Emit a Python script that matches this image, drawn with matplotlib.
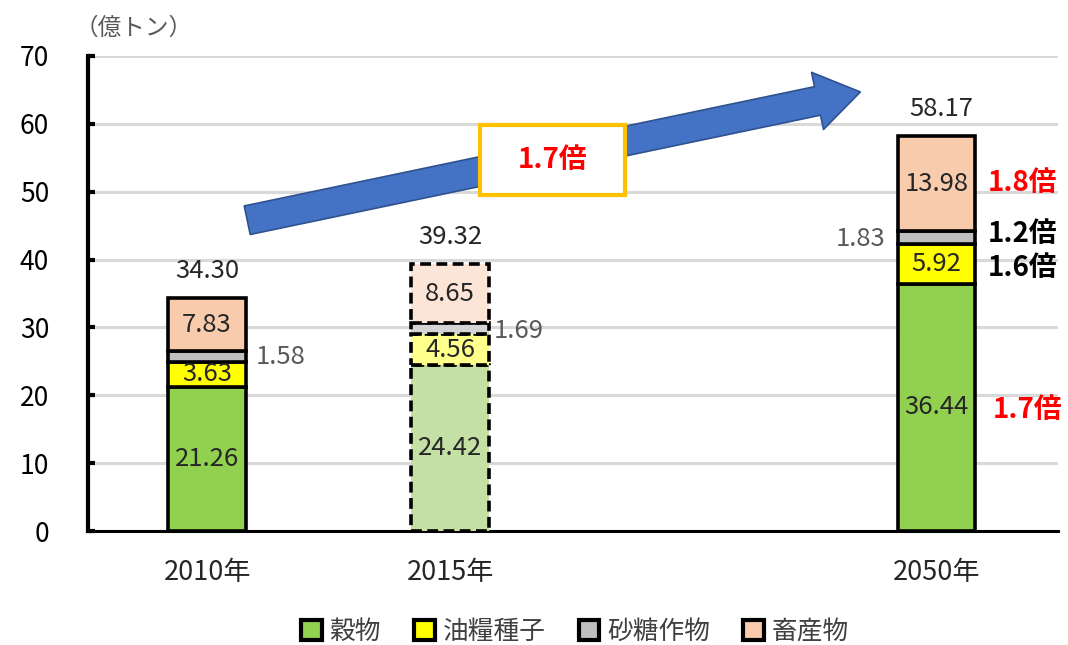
import matplotlib
matplotlib.use("Agg")
import matplotlib.pyplot as plt
from matplotlib.patches import FancyArrowPatch, Rectangle, Patch, ArrowStyle

plt.rcParams['font.family'] = ['Noto Sans CJK JP', 'DejaVu Sans']

# data
years = ['2010年', '2015年', '2050年']
xpos = [0, 1, 3]
grain = [21.26, 24.42, 36.44]      # 穀物
oilseed = [3.63, 4.56, 5.92]       # 油糧種子
sugar = [1.58, 1.69, 1.83]         # 砂糖作物
livestock = [7.83, 8.65, 13.98]    # 畜産物
totals = [34.30, 39.32, 58.17]
series_names = ['穀物', '油糧種子', '砂糖作物', '畜産物']
ratios = ['1.7倍', '1.6倍', '1.2倍', '1.8倍']

colors = ['#92D050', '#FFFF00', '#BFBFBF', '#F8CBAD']
colors_light = ['#C5E0A5', '#FFFF8C', '#D4D4D4', '#FCE4D6']

fig = plt.figure(figsize=(10.68, 6.45), dpi=100)
ax = fig.add_axes([88 / 1068, 1 - 531 / 645, (1058 - 88) / 1068, (531 - 56) / 645])

series = [grain, oilseed, sugar, livestock]
width = 0.32
for i, x in enumerate(xpos):
    bottom = 0
    dashed = (i == 1)
    for k, s in enumerate(series):
        fc = colors_light[k] if dashed else colors[k]
        ax.bar(x, s[i], width, bottom=bottom, color=fc, edgecolor='black',
               linewidth=2.6, linestyle=(0, (3, 1.5)) if dashed else '-', zorder=3)
        bottom += s[i]

fs = 18.5
# labels inside the segments (grain, oilseed, livestock)
for i, x in enumerate(xpos):
    ax.text(x, grain[i] / 2, f'{grain[i]:.2f}', ha='center', va='center',
            fontsize=fs, color='#262626', zorder=5)
    ax.text(x, grain[i] + oilseed[i] / 2, f'{oilseed[i]:.2f}', ha='center',
            va='center', fontsize=fs, color='#262626', zorder=5)
    top = grain[i] + oilseed[i] + sugar[i]
    ax.text(x, top + livestock[i] / 2, f'{livestock[i]:.2f}', ha='center',
            va='center', fontsize=fs, color='#262626', zorder=5)
    ax.text(x + (0.02 if i == 2 else 0), totals[i] + 4.0, f'{totals[i]:.2f}',
            ha='center', va='center', fontsize=fs, color='#262626', zorder=5)

# sugar labels beside the bars
ax.text(0.2, 25.6, f'{sugar[0]:.2f}', ha='left', va='center', fontsize=fs, color='#595959')
ax.text(1.18, 29.5, f'{sugar[1]:.2f}', ha='left', va='center', fontsize=fs, color='#595959')
ax.text(2.79, 43.0, f'{sugar[2]:.2f}', ha='right', va='center', fontsize=fs, color='#595959')

# ratio labels for 2050
rs = 20
ax.text(3.374, 17.8, ratios[0], ha='center', va='center', fontsize=rs,
        fontweight='bold', color='#FF0000')
ax.text(3.354, 38.7, ratios[1], ha='center', va='center', fontsize=rs,
        fontweight='bold', color='black')
ax.text(3.354, 43.7, ratios[2], ha='center', va='center', fontsize=rs,
        fontweight='bold', color='black')
ax.text(3.354, 51.25, ratios[3], ha='center', va='center', fontsize=rs,
        fontweight='bold', color='#FF0000')

# big arrow
arrow = FancyArrowPatch((0.165, 45.8), (2.687, 64.7),
                        arrowstyle=ArrowStyle.Simple(head_length=1.5, head_width=2.0, tail_width=1.0),
                        mutation_scale=21, shrinkA=0, shrinkB=0,
                        facecolor='#4472C4', edgecolor='#2F528F', linewidth=1.2, zorder=6)
ax.add_patch(arrow)
ax.add_patch(Rectangle((1.123, 49.5), 0.597, 10.4, facecolor='white',
                       edgecolor='#FFC000', linewidth=3, zorder=7))
ax.text(1.42, 54.7, '1.7倍', ha='center', va='center', fontsize=rs,
        fontweight='bold', color='#FF0000', zorder=8)

# axes styling
ax.set_xlim(-0.49, 3.5)
ax.set_ylim(0, 70)
ax.set_yticks(range(0, 71, 10))
ax.set_xticks(xpos)
ax.set_xticklabels(years)
ax.grid(axis='y', color='#D9D9D9', linewidth=2.2, zorder=0)
ax.set_axisbelow(True)
for s in ['top', 'right']:
    ax.spines[s].set_visible(False)
ax.spines['left'].set_linewidth(3)
ax.spines['bottom'].set_linewidth(2.2)
ax.tick_params(axis='y', direction='in', length=5, width=3, pad=28,
               labelsize=19, labelcolor='black')
ax.tick_params(axis='x', length=0, pad=20, labelsize=19.5, labelcolor='#262626')

fig.text(75 / 1068, 1 - 28 / 645, '（億トン）', ha='left', va='center',
         fontsize=17, color='#595959')

handles = [Patch(facecolor=c, edgecolor='black', linewidth=3) for c in colors]
fig.legend(handles, series_names, loc='center', bbox_to_anchor=(575 / 1068, 1 - 632 / 645),
           ncol=4, frameon=False, fontsize=18.5, handlelength=0.8, handleheight=0.8,
           handletextpad=0.3, columnspacing=1.3, labelcolor='#404040')

fig.savefig('out.png', dpi=100)
